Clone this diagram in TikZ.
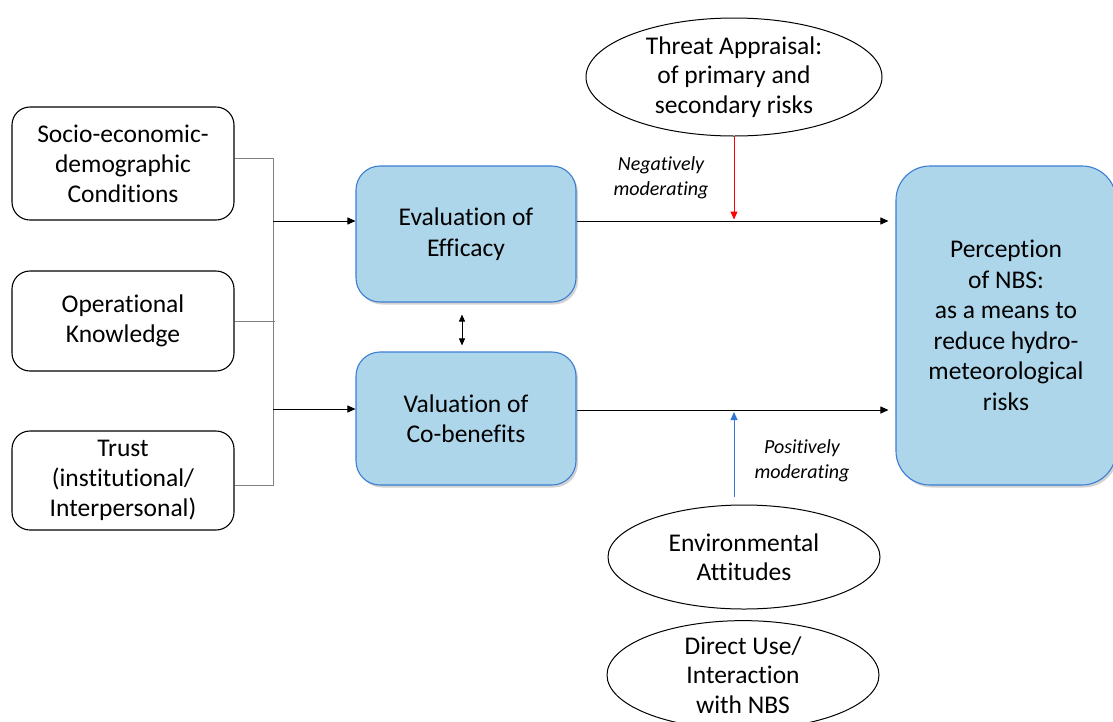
\documentclass[tikz,border=0pt]{standalone}
\usepackage{fontspec}
\setmainfont{Carlito}[Ligatures={NoCommon,NoDiscretionary,NoContextual}]
\usepackage{xcolor}
\usepackage{tikz}
\usetikzlibrary{positioning,arrows.meta,shapes.geometric,shadows,calc}

\definecolor{boxfill}{RGB}{174,214,234}
\definecolor{boxline}{RGB}{60,125,210}
\definecolor{busgray}{RGB}{128,128,128}
\definecolor{posblue}{RGB}{50,120,210}

\begin{document}
\begin{tikzpicture}[x=1pt, y=-1pt,
  inbox/.style={draw, rounded corners=18pt, line width=1.1pt, align=center,
    font=\fontsize{25.5}{30}\selectfont, minimum width=222pt},
  bluebox/.style={draw=boxline, fill=boxfill, rounded corners=24pt, line width=1.1pt,
    align=center, font=\fontsize{25.5}{30.5}\selectfont,
    drop shadow={opacity=0.35, shadow xshift=2pt, shadow yshift=-2.5pt}},
  oval/.style={draw, ellipse, line width=1pt, align=center, inner sep=0pt,
    font=\fontsize{25.5}{29.5}\selectfont},
  busline/.style={draw=busgray, line width=1pt},
  arrowline/.style={line width=0.9pt, -{Triangle[length=8pt,width=7pt]}},
  modlabel/.style={align=center, font=\fontsize{20}{25}\selectfont\itshape}
]
\useasboundingbox (0,0) rectangle (1113,721);
\clip (0,0) rectangle (1113,721);

% Antecedents (left column)
\node[inbox, minimum height=113pt] (socio) at (123,163.5) {Socio-economic-\\demographic\\Conditions};
\node[inbox, minimum height=100pt] (operational) at (123,321) {Operational\\Knowledge};
\node[inbox, minimum height=99pt] (trust) at (123,480.5) {Trust\\(institutional/\\Interpersonal)};

% Mediators
\node[bluebox, minimum width=220pt, minimum height=136pt] (efficacy) at (466,234) {Evaluation of\\Efficacy};
\node[bluebox, minimum width=220pt, minimum height=133pt] (cobenefits) at (466,418.5) {Valuation of\\Co-benefits};

% Outcome
\node[bluebox, rounded corners=34pt, minimum width=220pt, minimum height=319pt] (perception) at (1006,325.5)
  {Perception\\of NBS:\\as a means to\\reduce hydro-\\meteorological\\risks};

% Moderators
\node[oval, minimum width=296pt, minimum height=118pt] (threat) at (734,77) {Threat Appraisal:\\of primary and\\secondary risks};
\node[oval, minimum width=272pt, minimum height=104pt] (environment) at (744,557) {Environmental\\Attitudes};
\node[oval, minimum width=272pt, minimum height=106pt] (directuse) at (743,675) {Direct Use/\\Interaction\\with NBS};

% Bus from the left boxes
\coordinate (bustop) at (273,158);
\coordinate (busbot) at (273,485);
\draw[busline] (socio.east |- bustop) -- (bustop) -- (busbot) -- (trust.east |- busbot);
\draw[busline] (operational.east) -- ([xshift=2pt]operational.east -| bustop);

\coordinate (effin) at ([yshift=13pt]efficacy.west);
\coordinate (cobin) at ([yshift=9.5pt]cobenefits.west);
\draw[arrowline] (effin -| bustop) -- (effin);
\draw[arrowline] (cobin -| bustop) -- (cobin);

% Mediators to outcome
\coordinate (effout) at ([yshift=13pt]efficacy.east);
\coordinate (cobout) at ([yshift=8.5pt]cobenefits.east);
\draw[arrowline, shorten >=7pt] (effout) -- (effout -| perception.west);
\draw[arrowline, shorten >=7pt] (cobout) -- (cobout -| perception.west);

% Link between mediators
\draw[line width=0.9pt, {Triangle[length=7pt,width=6pt]}-{Triangle[length=7pt,width=6pt]},
  shorten <=12pt, shorten >=6pt] ([xshift=-4pt]efficacy.south) -- ([xshift=-4pt]cobenefits.north);

% Moderating paths
\draw[red, line width=1pt, -{Triangle[length=8pt,width=7pt]}, shorten >=1.5pt] (threat.south) -- (threat.south |- effout);
\draw[posblue, line width=1pt, -{Triangle[length=8pt,width=7pt]}, shorten <=8pt, shorten >=2pt]
  ([xshift=-10pt]environment.north) -- ([xshift=-10pt]environment.north |- cobout);

\node[modlabel] (neglabel) at (661,178) {Negatively\\moderating};
\node[modlabel] (poslabel) at (802,461) {Positively\\moderating};

\end{tikzpicture}
\end{document}
